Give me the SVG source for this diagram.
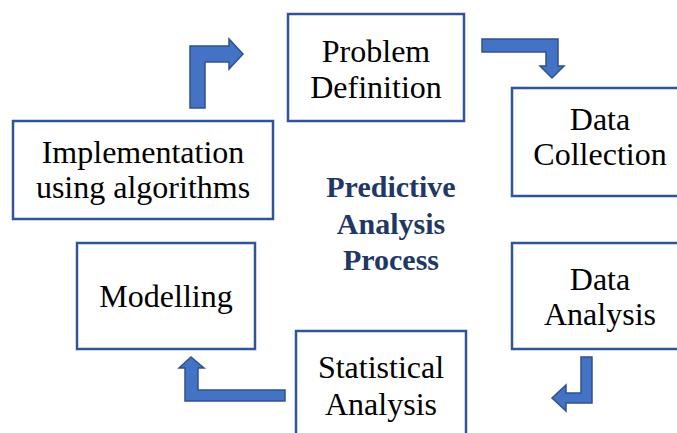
<svg xmlns="http://www.w3.org/2000/svg" width="677" height="433" viewBox="0 0 677 433">
<style>
.box{fill:#fff;stroke:#2F5597;stroke-width:2.5}
.t{font-family:"Liberation Serif","Times New Roman",serif;font-size:32px;fill:#000;text-anchor:middle}
.c{font-family:"Liberation Serif","Times New Roman",serif;font-size:30px;font-weight:bold;fill:#1F3864;text-anchor:middle}
.arr{fill:#4472C4;stroke:#2F528F;stroke-width:1.5;stroke-linejoin:miter}
</style>
<rect width="677" height="433" fill="#fff"/>
<g id="problem-definition">
<rect class="box" x="288" y="14" width="176" height="107"/>
<text class="t" x="376" y="62">Problem</text>
<text class="t" x="376" y="98">Definition</text>
</g>
<g id="data-collection">
<rect class="box" x="512" y="88" width="180" height="108"/>
<text class="t" x="600" y="130">Data</text>
<text class="t" x="600" y="165">Collection</text>
</g>
<g id="data-analysis">
<rect class="box" x="512" y="243" width="180" height="106"/>
<text class="t" x="600" y="290">Data</text>
<text class="t" x="600" y="325">Analysis</text>
</g>
<g id="statistical-analysis">
<rect class="box" x="296" y="331" width="170" height="120"/>
<text class="t" x="381" y="378">Statistical</text>
<text class="t" x="381" y="415">Analysis</text>
</g>
<g id="modelling">
<rect class="box" x="77" y="243" width="178" height="106"/>
<text class="t" x="166" y="307">Modelling</text>
</g>
<g id="implementation">
<rect class="box" x="13" y="121" width="260" height="98"/>
<text class="t" x="143" y="163">Implementation</text>
<text class="t" x="143" y="198">using algorithms</text>
</g>
<g id="center-title">
<text class="c" x="391" y="197">Predictive</text>
<text class="c" x="391" y="234">Analysis</text>
<text class="c" x="391" y="270">Process</text>
</g>
<g id="connectors">
<path class="arr" d="M190,108 L190,46 L229,46 L229,39 L243,54 L229,69 L229,62 L205,62 L205,108 Z"/>
<path class="arr" d="M482,39 L558,39 L558,66 L564,66 L552,78 L540,66 L546,66 L546,52 L482,52 Z"/>
<path class="arr" d="M592,357 L592,403 L566,403 L566,411 L552,398 L566,385 L566,393 L581,393 L581,357 Z"/>
<path class="arr" d="M185,401 L185,368 L179,368 L191,357 L204,368 L198,368 L198,390 L285,390 L285,401 Z"/>
</g>
</svg>
